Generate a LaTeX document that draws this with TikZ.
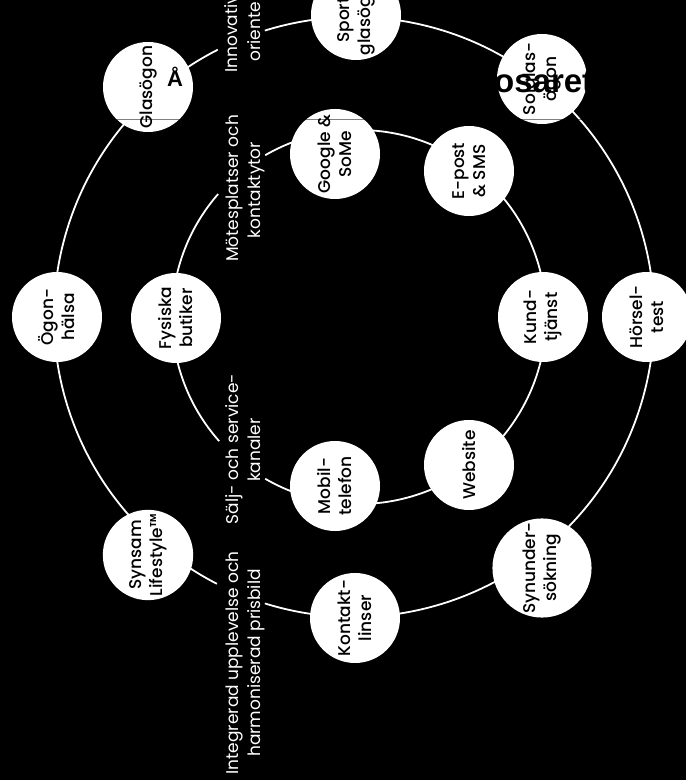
\documentclass[tikz,border=0pt]{standalone}
\usepackage{fontspec}
\setmainfont{Poppins}
\newfontfamily\bubfont{Poppins Medium}
\newfontfamily\titlefont{Liberation Sans}
\begin{document}
\begin{tikzpicture}[x=1pt,y=1pt,
  bub/.style={circle,fill=white,minimum size=90pt,inner sep=0pt,rotate=90,align=center,
    text=black,font=\bubfont\fontsize{17}{21}\selectfont},
  lab/.style={rotate=90,text=white,inner sep=0pt,font=\fontsize{17}{21}\selectfont},
  ring/.style={white,line width=1.8pt},
  ttl/.style={text=black,inner sep=0pt,font=\titlefont\bfseries}]
\fill[black] (0,0) rectangle (686,780);
\useasboundingbox (0,0) rectangle (686,780);
\coordinate (oc) at (354,463);
\coordinate (ic) at (359,463);
% rings
\draw[ring] (oc) ++(-107.3:300) arc[start angle=-107.3,end angle=107.3,radius=300];
\draw[ring] (oc) ++(117:300) arc[start angle=117,end angle=242.8,radius=300];
\draw[ring] (ic) ++(-120.1:187) arc[start angle=-120.1,end angle=120.1,radius=187];
\draw[ring] (ic) ++(138.9:187) arc[start angle=138.9,end angle=221.6,radius=187];
% outer nodes
\node[bub] (ogon) at (57,463) {Ögon-\\hälsa};
\node[bub] (glas) at (148,693) {Glasögon};
\node[bub] (sport) at (356,765) {Sport-\\glasögon};
\node[bub] (sol) at (542,701) {Solglas-\\ögon};
\node[bub] (horsel) at (647,463) {Hörsel-\\test};
\node[bub] (synund) at (542,212) {Synunder-\\sökning};
\node[bub] (kontakt) at (355,162) {Kontakt-\\linser};
\node[bub] (life) at (148,225) {Synsam\\Lifestyle™};
% inner nodes
\node[bub] (fys) at (176,462) {Fysiska\\butiker};
\node[bub] (google) at (335,626) {Google \&\\SoMe};
\node[bub] (epost) at (469,609) {E-post\\\& SMS};
\node[bub] (kund) at (543,463) {Kund-\\tjänst};
\node[bub] (web) at (469,315) {Website};
\node[bub] (mobil) at (335,294) {Mobil-\\telefon};
% labels
\node[lab,anchor=base west] (inn1) at (237,707) {Innovativ};
\node[lab,anchor=base west] (inn2) at (260,718) {oriente};
\node[lab,anchor=base] (mot1) at (238,591.5) {Mötesplatser och};
\node[lab,anchor=base] (mot2) at (260,590) {kontaktytor};
\node[lab,anchor=base] (sal1) at (238,331) {Sälj- och service-};
\node[lab,anchor=base] (sal2) at (260,330) {kanaler};
\node[lab,anchor=base] (int1) at (238,117) {Integrerad upplevelse och};
\node[lab,anchor=base] (int2) at (260,117) {harmoniserad prisbild};
% overlay rule and title fragments
\coordinate (rl) at (0,660.5);
\coordinate (rr) at (686,660.5);
\draw[black,opacity=0.5,line width=1.5pt] (rl) -- (rr);
\node[ttl,anchor=base west,font=\titlefont\bfseries\fontsize{22}{26}\selectfont] (t1) at (167,693) {Å};
\node[ttl,anchor=base west,font=\titlefont\bfseries\fontsize{33}{38}\selectfont] (t2) at (494,687) {osaret};
\end{tikzpicture}
\end{document}
